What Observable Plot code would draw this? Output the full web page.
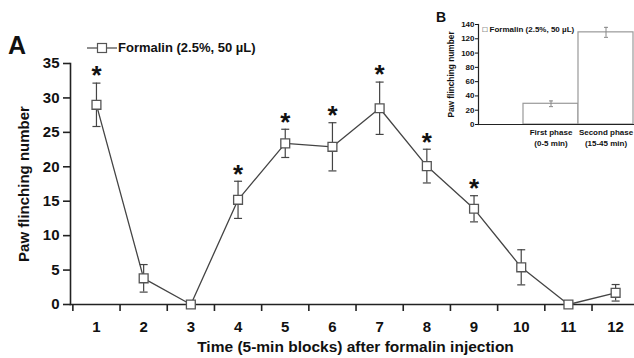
<!DOCTYPE html>
<html>
<head>
<meta charset="utf-8">
<script src="https://cdn.jsdelivr.net/npm/d3@7"></script>
<script src="https://cdn.jsdelivr.net/npm/@observablehq/plot@0.6"></script>
<style>
  html, body { margin: 0; padding: 0; background: #fff; overflow: hidden; }
  #wrap { position: relative; width: 634px; height: 358px; overflow: hidden; font-family: "Liberation Sans", Arial, sans-serif; color: #111; }
  #main { position: absolute; left: 0; top: 0; width: 634px; }
  #inset { position: absolute; left: 370px; top: 0; width: 308px; }
  #wrap svg { max-width: none !important; }
  #panelA { position: absolute; left: 8px; top: 31px; font-size: 25px; line-height: 29px; font-weight: bold; }
  #panelB { position: absolute; left: 436px; top: 9px; font-size: 14px; line-height: 16px; font-weight: bold; }
  #legend { position: absolute; left: 87px; top: 40px; font-size: 13px; font-weight: bold; display: flex; align-items: center; white-space: nowrap; }
</style>
</head>
<body>
<div id="wrap">
  <div id="main"></div>
  <div id="inset"></div>
  <div id="panelA">A</div>
  <div id="panelB">B</div>
  <div id="legend"><svg width="30" height="12"><line x1="0" y1="6" x2="30" y2="6" stroke="#444" stroke-width="1.2"/><rect x="10.5" y="1.5" width="9" height="9" fill="#fff" stroke="#555" stroke-width="1.2"/></svg><span style="margin-left:1px">Formalin (2.5%, 50 µL)</span></div>
</div>
<script>
// ---- Panel A data ----
const blocks = [1, 2, 3, 4, 5, 6, 7, 8, 9, 10, 11, 12];
const flinchMeans = [29.0, 3.8, 0, 15.2, 23.4, 22.9, 28.5, 20.1, 13.9, 5.4, 0, 1.7];
const flinchSEM = [3.15, 2.0, 0, 2.7, 2.05, 3.5, 3.8, 2.45, 1.9, 2.55, 0, 1.2];
const significant = [true, false, false, true, true, true, true, true, true, false, false, false];
const yTicksA = [0, 5, 10, 15, 20, 25, 30, 35];
const blockDividers = [0.5, 1.5, 2.5, 3.5, 4.5, 5.5, 6.5, 7.5, 8.5, 9.5, 10.5, 11.5];
const xDomainA = [0.45, 12.4];
const yDomainA = [0, 35];
const xLabelA = "Time (5-min blocks) after formalin injection";
const yLabelA = "Paw flinching number";

// ---- Panel B data ----
const phases = ["First phase", "Second phase"];
const phaseRanges = ["(0-5 min)", "(15-45 min)"];
const phaseMeans = [29, 129];
const phaseSEM = [4, 7];
const yTicksB = [0, 20, 40, 60, 80, 100, 120, 140];
const yDomainB = [0, 140];
const legendB = "\u25A1 Formalin (2.5%, 50 \u00B5L)";

const font = "'Liberation Sans', Arial, sans-serif";
const cap = (w) => ({ draw(ctx) { ctx.moveTo(-w, 0); ctx.lineTo(w, 0); } });

const dataA = blocks.map((b, i) => ({
  block: b, mean: flinchMeans[i], lo: flinchMeans[i] - flinchSEM[i], hi: flinchMeans[i] + flinchSEM[i],
  sem: flinchSEM[i], sig: significant[i]
}));
const withErr = dataA.filter(d => d.sem > 0);

const lineColor = "#444";

const plotA = Plot.plot({
  width: 634, height: 358,
  marginLeft: 70, marginRight: 0, marginTop: 63, marginBottom: 54,
  style: { fontFamily: font, fontSize: "15px", fontWeight: "bold", color: "#111", background: "transparent", overflow: "visible" },
  x: { domain: xDomainA },
  y: { domain: yDomainA },
  marks: [
    Plot.frame({ anchor: "bottom", stroke: "#222", strokeWidth: 1.6 }),
    Plot.frame({ anchor: "left", stroke: "#222", strokeWidth: 1.6 }),
    Plot.axisY({ ticks: yTicksA, tickSize: 7, tickPadding: 4, label: null, strokeWidth: 1.6, stroke: "#222" }),
    Plot.axisX({ ticks: blockDividers, tickSize: 7, tickFormat: () => "", label: null, strokeWidth: 1.6, stroke: "#222" }),
    Plot.axisX({ ticks: blocks, tickSize: 0, tickPadding: 17, label: null }),
    Plot.text([yLabelA], { frameAnchor: "left", textAnchor: "middle", rotate: -90, dx: -46, fontSize: 15, fontWeight: "bold" }),
    Plot.text([xLabelA], { frameAnchor: "bottom", textAnchor: "middle", dx: 3, dy: 47, fontSize: 15.5, fontWeight: "bold" }),
    Plot.ruleX(withErr, { x: "block", y1: "lo", y2: "hi", stroke: lineColor, strokeWidth: 1.2 }),
    Plot.dot(withErr, { x: "block", y: "hi", symbol: cap(4), fill: "none", stroke: lineColor, strokeWidth: 1.2 }),
    Plot.dot(withErr, { x: "block", y: "lo", symbol: cap(4), fill: "none", stroke: lineColor, strokeWidth: 1.2 }),
    Plot.line(dataA, { x: "block", y: "mean", stroke: lineColor, strokeWidth: 1.3 }),
    Plot.dot(dataA, { x: "block", y: "mean", symbol: "square", r: 5, fill: "#fff", stroke: "#555", strokeWidth: 1.3 }),
    Plot.text(dataA.filter(d => d.sig), { x: "block", y: "hi", text: () => "*", dy: -7, fontSize: 26, fontWeight: "bold", fill: "#111" })
  ]
});
document.getElementById("main").appendChild(plotA);

const dataB = phases.map((p, i) => ({ phase: p, mean: phaseMeans[i], lo: phaseMeans[i] - phaseSEM[i], hi: phaseMeans[i] + phaseSEM[i] }));

const plotB = Plot.plot({
  width: 308, height: 152,
  marginLeft: 108, marginRight: 0, marginTop: 24, marginBottom: 28,
  style: { fontFamily: font, fontSize: "8px", fontWeight: "bold", color: "#111", background: "transparent", overflow: "visible" },
  x: { type: "band", domain: phases, paddingInner: 0, paddingOuter: 0.786 },
  y: { domain: yDomainB },
  marks: [
    Plot.barY(dataB, { x: "phase", y: "mean", fill: "#fff", stroke: "#999", strokeWidth: 1.2 }),
    Plot.ruleX(dataB, { x: "phase", y1: "lo", y2: "hi", stroke: "#888", strokeWidth: 1 }),
    Plot.dot(dataB, { x: "phase", y: "hi", symbol: cap(2), fill: "none", stroke: "#888", strokeWidth: 1 }),
    Plot.dot(dataB, { x: "phase", y: "lo", symbol: cap(2), fill: "none", stroke: "#888", strokeWidth: 1 }),
    Plot.frame({ anchor: "bottom", stroke: "#222", strokeWidth: 1.2 }),
    Plot.frame({ anchor: "left", stroke: "#222", strokeWidth: 1.2 }),
    Plot.axisY({ ticks: yTicksB, tickSize: 3, tickPadding: 1, label: null, fontSize: 8 }),
    Plot.axisX({ tickSize: 0, tickPadding: 3, label: null, fontSize: 8, lineHeight: 1.35,
      tickFormat: (d) => d + "\n" + phaseRanges[phases.indexOf(d)] }),
    Plot.text([yLabelA], { frameAnchor: "left", textAnchor: "middle", rotate: -90, dx: -27, fontSize: 8.3, fontWeight: "bold" }),
    Plot.text([legendB], { frameAnchor: "top-left", textAnchor: "start", dx: 4, dy: 2, fontSize: 8, fontWeight: "bold" })
  ]
});
document.getElementById("inset").appendChild(plotB);
</script>
</body>
</html>
